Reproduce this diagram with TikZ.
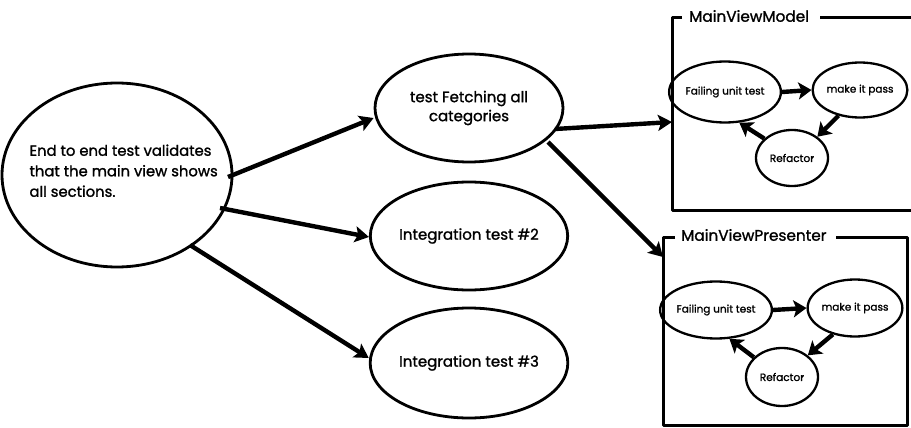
\documentclass[tikz,border=0pt]{standalone}
\usepackage{fontspec}
\setmainfont{Poppins}[UprightFeatures={FakeBold=1.3}]
\usetikzlibrary{arrows.meta,shapes.geometric}
\begin{document}
\begin{tikzpicture}[x=1pt,y=-1pt,
  bubble/.style={draw, ellipse, line width=2.8pt, inner sep=0pt, align=center},
  bigarrow/.style={line width=4.4pt, -{Stealth[length=14pt,width=16pt,inset=3pt]}},
  cyclearrow/.style={line width=4.4pt, -{Stealth[length=13pt,width=17pt,inset=3pt]}},
  frame/.style={line width=3pt, line join=round},
  framelabel/.style={font=\fontsize{15.3}{17}\selectfont, inner sep=0pt, anchor=west},
  small/.style={font=\fontsize{10.5}{12}\selectfont},
  mid/.style={font=\fontsize{15}{19}\selectfont},
]
\useasboundingbox (0,0) rectangle (911,428);
\clip (0,0) rectangle (911,428);

% left ellipse and the three integration tests
\node[bubble, minimum width=230pt, minimum height=184pt] (e2e) at (117,175) {};
\node[align=left, anchor=north west, font=\fontsize{14.8}{20.5}\selectfont] (e2etext) at (26,141)
  {End to end test validates\\that the main view shows\\all sections.};
\node[bubble, mid, minimum width=188pt, minimum height=108pt] (fetch) at (469,108)
  {test Fetching all\\categories};
\node[bubble, mid, minimum width=188pt, minimum height=108pt] (it2) at (469,236)
  {Integration test \#2};
\node[bubble, mid, minimum width=188pt, minimum height=110pt] (it3) at (469,363)
  {Integration test \#3};

% frames
\coordinate (f1l) at (672,122);
\coordinate (f2c) at (663,257);
\draw[frame] (682,18) -- (672,18) -- (672,210) -- (915,210);
\draw[frame] (820,18) -- (915,18);
\node[framelabel] (f1label) at (689,16) {MainViewModel};
\draw[frame] (675,237) -- (663,237) -- (663,425) -- (907,425) -- (907,237) -- (836,237);
\node[framelabel] (f2label) at (681,235) {MainViewPresenter};

% arrows between tests
\draw[bigarrow] (228,177) -- (fetch.west |- 0,118);
\draw[bigarrow] (220,208) -- (it2.west |- 0,237);
\draw[bigarrow] (190,245) -- (it3.west |- 0,358);
\draw[bigarrow] (555,129) -- (f1l);
\draw[bigarrow] (548,142) -- (f2c);

% red-green-refactor cycle, MainViewModel
\node[bubble, small, line width=2.3pt, minimum width=86pt, minimum height=61pt] (fail1) at (725,92) {Failing unit test};
\node[bubble, small, line width=2.3pt, minimum width=80pt, minimum height=55pt] (pass1) at (860,90) {make it pass};
\node[bubble, small, line width=2.3pt, minimum width=72pt, minimum height=56pt] (ref1) at (792,158) {Refactor};
\draw[cyclearrow] (fail1.east) -- (pass1.west);
\draw[cyclearrow] (pass1.230) -- (ref1.40);
\draw[cyclearrow] (ref1.145) -- (fail1.-65);

% red-green-refactor cycle, MainViewPresenter
\node[bubble, small, line width=2.3pt, minimum width=86pt, minimum height=57pt] (fail2) at (716,310) {Failing unit test};
\node[bubble, small, line width=2.3pt, minimum width=84pt, minimum height=57pt] (pass2) at (855,308) {make it pass};
\node[bubble, small, line width=2.3pt, minimum width=72pt, minimum height=58pt] (ref2) at (782,377) {Refactor};
\draw[cyclearrow] (fail2.east) -- (pass2.west);
\draw[cyclearrow] (pass2.230) -- (ref2.40);
\draw[cyclearrow] (ref2.145) -- (fail2.-65);
\end{tikzpicture}
\end{document}
